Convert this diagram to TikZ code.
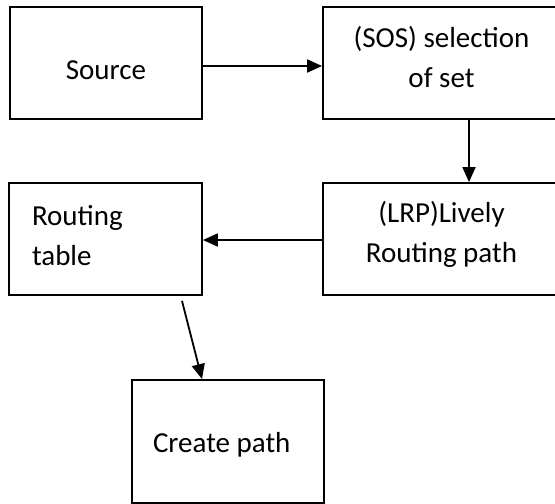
\documentclass[tikz,border=0pt]{standalone}
\usepackage{fontspec}
\setmainfont{Carlito}
\usetikzlibrary{arrows.meta}

\begin{document}
\begin{tikzpicture}[x=1pt, y=-1pt]
   \tikzstyle{every node}=[font=\fontsize{29}{40}\selectfont]
   \tikzstyle{box}=[draw, line width=1.8pt, rectangle, inner sep=0pt, minimum width=192pt, minimum height=112pt]
   \tikzstyle{flow}=[line width=1.8pt, -{Triangle[length=15pt, width=13pt]}]

   \useasboundingbox (0,0) rectangle (555,504);

\node[box, text height=32pt, text depth=0pt] (src) at (106,63) {Source};
\node[box, minimum width=237pt, align=center, text depth=13pt] (sos) at (441.5,63) {(SOS) selection\\of set};
\node[box, minimum width=237pt, align=center, text depth=15pt] (lrp) at (441.5,239) {(LRP)Lively\\Routing path};
\node[box, minimum width=193pt, text width=147pt, align=flush left, text depth=48pt] (rtab) at (105.5,239) {Routing\\table};
\node[box, minimum height=123pt, text width=150pt, align=flush left, text height=27pt] (cpath) at (228,441.5) {Create path};

\draw[flow] ([yshift=-3pt]src.east) -- ([yshift=-3pt]sos.west);
\draw[flow] ([xshift=27.5pt]sos.south) -- ([xshift=27.5pt]lrp.north);
\draw[flow] ([yshift=-1pt]lrp.west) -- ([yshift=-1pt]rtab.east);
\draw[flow] ([xshift=76.5pt, yshift=-5pt]rtab.south) -- ([xshift=-26pt]cpath.north);

\end{tikzpicture}
\end{document}
